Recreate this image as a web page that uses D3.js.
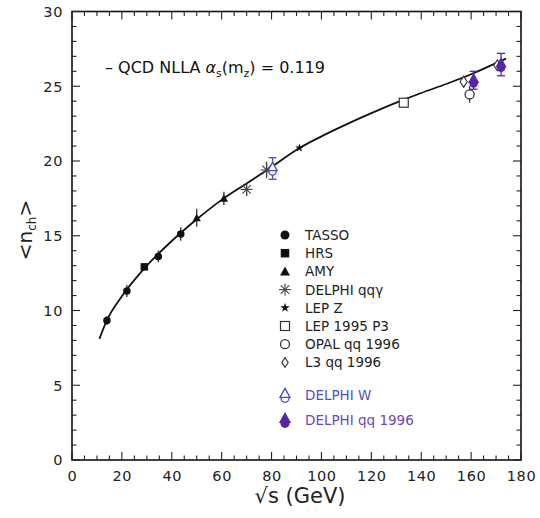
<!DOCTYPE html>
<html><head><meta charset="utf-8">
<script src="https://cdn.jsdelivr.net/npm/d3@7"></script>
<style>
body{margin:0;background:#fff;}
svg{display:block;font-family:"DejaVu Sans",Verdana,sans-serif;}
</style></head>
<body><svg id="c" width="540" height="518"></svg>
<script>
// ---- data ----
const curveX = [11, 14, 20, 30, 40, 50, 60, 70, 80, 91.2, 100, 110, 120, 133, 140, 150, 160, 170, 174];
const curveY = [8.1, 9.35, 10.95, 13.0, 14.65, 16.1, 17.4, 18.5, 19.6, 20.87, 21.65, 22.45, 23.2, 24.1, 24.55, 25.15, 25.8, 26.55, 26.85];

const tassoX = [14, 22, 34.6, 43.6];
const tassoY = [9.33, 11.3, 13.62, 15.12];
const tassoE = [0.3, 0.4, 0.4, 0.45];
const hrsX = [29];
const hrsY = [12.92];
const hrsE = [0.25];
const amyX = [50, 60.9];
const amyY = [16.2, 17.5];
const amyE = [0.6, 0.45];
const dqqgX = [70, 78];
const dqqgY = [18.1, 19.4];
const dqqgE = [0.45, 0.55];
const lepzX = [91.2];
const lepzY = [20.87];
const lep95X = [133];
const lep95Y = [23.9];
const lep95E = [0.3];
const opalX = [159.4];
const opalY = [24.45];
const opalE = [0.55];
const l3X = [157, 170.5];
const l3Y = [25.3, 26.4];
const l3E = [0.4, 0.35];
const dwX = [80.4];
const dwY = [19.5];
const dwE = [0.72];
const dqq96X = [161, 172];
const dqq96Y = [25.4, 26.45];
const dqq96E = [0.6, 0.75];

const legendLabels = ["TASSO", "HRS", "AMY", "DELPHI qqγ", "LEP Z", "LEP 1995 P3", "OPAL qq 1996", "L3 qq 1996"];
const legendBlue = ["DELPHI W", "DELPHI qq 1996"];

const xTicks = d3.range(0, 181, 20);
const yTicks = d3.range(0, 31, 5);

// ---- layout ----
const svg = d3.select("#c");
const L = 72, R = 521, T = 11.5, B = 460;
const x = d3.scaleLinear().domain([0, 180]).range([L, R]);
const y = d3.scaleLinear().domain([0, 30]).range([B, T]);
const BLUE = "#4848c8", PURPLE = "#5626a8";

// frame
svg.append("rect").attr("x", L).attr("y", T).attr("width", R - L).attr("height", B - T)
  .attr("fill", "none").attr("stroke", "#111").attr("stroke-width", 1.6);

// ticks (inward on all four sides)
const xMinor = d3.range(0, 181, 5);
const yMinor = d3.range(0, 31, 1);
const tk = svg.append("g").attr("stroke", "#222").attr("stroke-width", 1.1);
xMinor.forEach(v => {
  const len = v % 20 === 0 ? 8 : 4.5;
  tk.append("line").attr("x1", x(v)).attr("x2", x(v)).attr("y1", B).attr("y2", B - len);
  tk.append("line").attr("x1", x(v)).attr("x2", x(v)).attr("y1", T).attr("y2", T + len);
});
yMinor.forEach(v => {
  const len = v % 5 === 0 ? 8 : 4.5;
  tk.append("line").attr("y1", y(v)).attr("y2", y(v)).attr("x1", L).attr("x2", L + len);
  tk.append("line").attr("y1", y(v)).attr("y2", y(v)).attr("x1", R).attr("x2", R - len);
});

// tick labels
svg.append("g").selectAll("text").data(xTicks).join("text")
  .attr("x", d => x(d) + 0.5).attr("y", 480.5).attr("text-anchor", "middle")
  .attr("font-size", 14.5).attr("letter-spacing", 0.6).attr("fill", "#222").text(d => d);
svg.append("g").selectAll("text").data(yTicks).join("text")
  .attr("x", 63).attr("y", d => y(d) + 5.3).attr("text-anchor", "end")
  .attr("font-size", 14.5).attr("letter-spacing", 0.6).attr("fill", "#222").text(d => d);

// axis titles
svg.append("text").attr("x", 300).attr("y", 503).attr("text-anchor", "middle")
  .attr("font-size", 21).attr("fill", "#222").text("√s (GeV)");
const yl = svg.append("text").attr("transform", "translate(32,230) rotate(-90)")
  .attr("text-anchor", "middle").attr("font-size", 20).attr("fill", "#222");
yl.append("tspan").text("<n");
yl.append("tspan").attr("font-size", 12).attr("dy", 4).text("ch");
yl.append("tspan").attr("dy", -4).text(">");

// annotation
const an = svg.append("text").attr("x", 105).attr("y", 73).attr("font-size", 16).attr("fill", "#111");
an.append("tspan").text("– QCD NLLA ");
an.append("tspan").attr("font-style", "italic").text("α");
an.append("tspan").attr("font-size", 11).attr("dy", 4).text("s");
an.append("tspan").attr("dy", -4).text("(m");
an.append("tspan").attr("font-size", 11).attr("dy", 4).text("z");
an.append("tspan").attr("dy", -4).text(") = 0.119");

// QCD curve
const curvePts = curveX.map((v, i) => [v, curveY[i]]);
svg.append("path").datum(curvePts)
  .attr("d", d3.line().x(d => x(d[0])).y(d => y(d[1])).curve(d3.curveMonotoneX))
  .attr("fill", "none").attr("stroke", "#111").attr("stroke-width", 1.8);

// marker drawing helpers
function marker(g, type, cx, cy, s, color) {
  color = color || "#111";
  if (type === "circle") g.append("circle").attr("cx", cx).attr("cy", cy).attr("r", s * 0.5).attr("fill", color);
  else if (type === "square") g.append("rect").attr("x", cx - s / 2).attr("y", cy - s / 2).attr("width", s).attr("height", s).attr("fill", color);
  else if (type === "triangle") g.append("path").attr("d", `M${cx},${cy - s * 0.55}L${cx + s * 0.55},${cy + s * 0.45}L${cx - s * 0.55},${cy + s * 0.45}Z`).attr("fill", color);
  else if (type === "asterisk") {
    const r = s * 0.55;
    [0, 45, 90, 135].forEach(a => {
      const dx = r * Math.cos(a * Math.PI / 180), dy = r * Math.sin(a * Math.PI / 180);
      g.append("line").attr("x1", cx - dx).attr("y1", cy - dy).attr("x2", cx + dx).attr("y2", cy + dy)
        .attr("stroke", "#444").attr("stroke-width", 1.1);
    });
  }
  else if (type === "star") g.append("path").attr("d", d3.symbol(d3.symbolStar, s * s * 0.35)()).attr("transform", `translate(${cx},${cy})`).attr("fill", color);
  else if (type === "osquare") g.append("rect").attr("x", cx - s / 2).attr("y", cy - s / 2).attr("width", s).attr("height", s).attr("fill", "#fff").attr("stroke", "#333").attr("stroke-width", 1.2);
  else if (type === "ocircle") g.append("circle").attr("cx", cx).attr("cy", cy).attr("r", s * 0.5).attr("fill", "#fff").attr("stroke", "#333").attr("stroke-width", 1.3);
  else if (type === "odiamond") g.append("path").attr("d", `M${cx},${cy - s * 0.6}L${cx + s * 0.4},${cy}L${cx},${cy + s * 0.6}L${cx - s * 0.4},${cy}Z`).attr("fill", "#fff").attr("stroke", "#333").attr("stroke-width", 1.1);
  else if (type === "delphiW" || type === "delphiQQ") {
    const filled = type === "delphiQQ";
    const c = filled ? PURPLE : BLUE;
    g.append("circle").attr("cx", cx).attr("cy", cy + s * 0.28).attr("r", s * 0.33)
      .attr("fill", filled ? c : "#fff").attr("stroke", c).attr("stroke-width", 1.3);
    g.append("path").attr("d", `M${cx},${cy - s * 0.55}L${cx + s * 0.42},${cy + s * 0.2}L${cx - s * 0.42},${cy + s * 0.2}Z`)
      .attr("fill", filled ? c : "#fff").attr("stroke", c).attr("stroke-width", 1.3);
  }
}

function errBars(g, xs, ys, es, color, cap) {
  xs.forEach((v, i) => {
    if (!es || !es[i]) return;
    const cx = x(v), y1 = y(ys[i] + es[i]), y2 = y(ys[i] - es[i]);
    g.append("line").attr("x1", cx).attr("x2", cx).attr("y1", y1).attr("y2", y2)
      .attr("stroke", color).attr("stroke-width", 1.3);
    if (cap) {
      [y1, y2].forEach(yy => g.append("line").attr("x1", cx - 4).attr("x2", cx + 4).attr("y1", yy).attr("y2", yy)
        .attr("stroke", color).attr("stroke-width", 1.3));
    }
  });
}

function series(xs, ys, es, type, s, color, cap) {
  const g = svg.append("g");
  errBars(g, xs, ys, es, color || "#333", cap);
  xs.forEach((v, i) => marker(g, type, x(v), y(ys[i]), s, color));
}

series(tassoX, tassoY, tassoE, "circle", 7.5);
series(hrsX, hrsY, hrsE, "square", 7.5);
series(amyX, amyY, amyE, "triangle", 7.5);
series(dqqgX, dqqgY, dqqgE, "asterisk", 11, "#444");
series(lepzX, lepzY, null, "star", 8);
series(lep95X, lep95Y, lep95E, "osquare", 9);
series(opalX, opalY, opalE, "ocircle", 9);
series(l3X, l3Y, l3E, "odiamond", 9);
series(dwX, dwY, dwE, "delphiW", 11, BLUE, true);
series(dqq96X, dqq96Y, dqq96E, "delphiQQ", 11, PURPLE, true);

// legend
const lg = svg.append("g");
const legTypes = ["circle", "square", "triangle", "asterisk", "star", "osquare", "ocircle", "odiamond"];
const legSizes = [9, 8.5, 9, 11, 9, 9, 9, 8];
legendLabels.forEach((lab, i) => {
  const yy = 235 + i * 18.2;
  marker(lg, legTypes[i], 285, yy, legSizes[i]);
  lg.append("text").attr("x", 305).attr("y", yy + 5).attr("font-size", 13.5).attr("fill", "#222").text(lab);
});
const blueY = [395, 420];
const blueTypes = ["delphiW", "delphiQQ"];
const blueCols = ["#4f4fcc", "#6a46c4"];
legendBlue.forEach((lab, i) => {
  marker(lg, blueTypes[i], 285, blueY[i], 12);
  lg.append("text").attr("x", 305).attr("y", blueY[i] + 5).attr("font-size", 13.5).attr("fill", blueCols[i]).text(lab);
});
</script></body></html>
